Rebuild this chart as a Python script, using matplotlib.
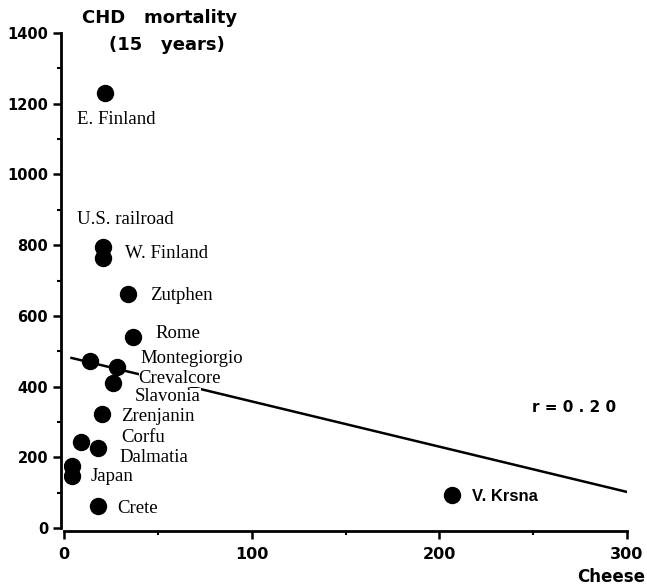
import matplotlib
matplotlib.use("Agg")
import matplotlib.pyplot as plt
from matplotlib.ticker import MultipleLocator

# Seven Countries: cheese intake vs 15-year CHD mortality
cohorts = ["E. Finland", "U.S. railroad", "W. Finland", "Zutphen", "Rome",
           "Montegiorgio", "Crevalcore", "Slavonia", "Zrenjanin", "Corfu",
           "Dalmatia", "Japan", "Japan", "Crete", "V. Krsna"]
cheese = [22, 21, 21, 34, 37, 14, 28, 26, 20, 9, 18, 4, 4, 18, 207]
chd = [1230, 795, 765, 662, 540, 472, 455, 410, 322, 244, 226, 175, 148, 62, 93]

fit_x = [4, 300]
fit_y = [481, 102]

# label offsets in pixels (dx right, dy down); None = no label
offsets = [(-28, 26), (-26, -27), (22, -4), (22, 2), (22, -4),
           (50, -3), (22, 11), (22, 13), (20, 2), (40, -4),
           (22, 9), None, (19, 1), (19, 2), (20, 1)]

fig = plt.figure(figsize=(6.47, 5.87), dpi=100)
ax = fig.add_axes([64 / 647, 1 - 528 / 587, (627 - 64) / 647, (528 - 33) / 587])

ax.plot(fit_x, fit_y, color="black", lw=1.8, zorder=2)
ax.plot(cheese, chd, "o", color="black", ms=11.5, zorder=4)

px = 72 / 100
for name, x, y, off in zip(cohorts, cheese, chd, offsets):
    if off is None:
        continue
    dx, dy = off
    if name == "V. Krsna":
        font = dict(family="Liberation Sans", fontsize=12, weight="bold")
    else:
        font = dict(family="Liberation Serif", fontsize=13.5)
    ax.annotate(name, (x, y), xytext=(dx * px, -dy * px), textcoords="offset points",
                ha="left", va="center", zorder=3,
                bbox=dict(facecolor="white", edgecolor="none", pad=0), **font)

ax.text(532 / 647, 1 - 408 / 587, "r = 0 . 2 0", transform=fig.transFigure,
        ha="left", va="center", fontsize=11, weight="bold", family="DejaVu Sans")

fig.text(160 / 647, 1 - 18 / 587, "CHD   mortality", ha="center", va="center",
         fontsize=13, weight="bold", family="DejaVu Sans")
fig.text(167 / 647, 1 - 45 / 587, "(15   years)", ha="center", va="center",
         fontsize=13, weight="bold", family="DejaVu Sans")
fig.text(0.997, 1 - 577 / 587, "Cheese", ha="right", va="center",
         fontsize=12, weight="bold", family="DejaVu Sans")

ax.set_xlim(0, 300)
ax.set_ylim(0, 1400)
ax.xaxis.set_major_locator(MultipleLocator(100))
ax.xaxis.set_minor_locator(MultipleLocator(50))
ax.yaxis.set_major_locator(MultipleLocator(200))
ax.yaxis.set_minor_locator(MultipleLocator(100))

for side in ["top", "right"]:
    ax.spines[side].set_visible(False)
for side in ["left", "bottom"]:
    ax.spines[side].set_linewidth(2)
    ax.spines[side].set_position(("outward", 2))

ax.tick_params(which="major", direction="out", length=6, width=1.8, labelsize=10.5)
ax.tick_params(axis="x", which="major", labelsize=11.5, pad=6)
ax.tick_params(which="minor", direction="out", length=3, width=1.5)
for lab in ax.get_xticklabels() + ax.get_yticklabels():
    lab.set_fontweight("bold")
    lab.set_family("DejaVu Sans")

fig.savefig("out.png", dpi=100)
